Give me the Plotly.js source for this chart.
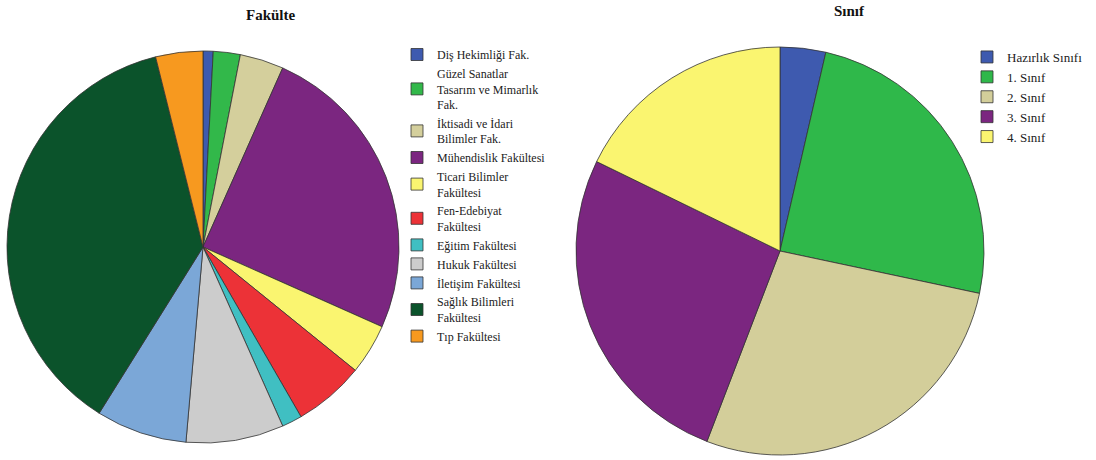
<!DOCTYPE html>
<html>
<head>
<meta charset="utf-8">
<script src="https://cdn.plot.ly/plotly-3.0.1.min.js"></script>
<style>html,body{margin:0;padding:0;background:#fff;}#chart{width:1096px;height:460px;}</style>
</head>
<body>
<div id="chart"></div>
<script>
// Left pie: Fakülte
const facultyLabels = [
  "Diş Hekimliği Fak.",
  "Güzel Sanatlar<br>Tasarım ve Mimarlık<br>Fak.",
  "İktisadi ve İdari<br>Bilimler Fak.",
  "Mühendislik Fakültesi",
  "Ticari Bilimler<br>Fakültesi",
  "Fen-Edebiyat<br>Fakültesi",
  "Eğitim Fakültesi",
  "Hukuk Fakültesi",
  "İletişim Fakültesi",
  "Sağlık Bilimleri<br>Fakültesi",
  "Tıp Fakültesi"
];
const facultyValues = [3, 8, 13, 90, 15, 21, 6, 29, 27, 134, 14];
const facultyColors = ["#3e5aaf", "#32b84a", "#d4cf9c", "#7b2680", "#faf570", "#ec3237",
                       "#40bfc2", "#cccccc", "#7ba7d7", "#0b532b", "#f7991f"];

// Right pie: Sınıf
const classLabels = ["Hazırlık Sınıfı", "1. Sınıf", "2. Sınıf", "3. Sınıf", "4. Sınıf"];
const classValues = [13, 89, 99, 95, 64];
const classColors = ["#3e5aaf", "#2fb84a", "#d3ce9a", "#7b2680", "#faf570"];

const W = 1096, H = 460;
const serif = "Liberation Serif";

const traces = [
  {
    type: "pie",
    labels: facultyLabels,
    values: facultyValues,
    marker: {colors: facultyColors, line: {color: "#333333", width: 0.8}},
    sort: false,
    direction: "clockwise",
    rotation: 0,
    textinfo: "none",
    hoverinfo: "label+value",
    domain: {x: [7 / W, 399 / W], y: [1 - 443 / H, 1 - 51 / H]},
    legend: "legend"
  },
  {
    type: "pie",
    labels: classLabels,
    values: classValues,
    marker: {colors: classColors, line: {color: "#333333", width: 0.8}},
    sort: false,
    direction: "clockwise",
    rotation: 0,
    textinfo: "none",
    hoverinfo: "label+value",
    domain: {x: [576 / W, 984 / W], y: [1 - 455 / H, 1 - 47 / H]},
    legend: "legend2"
  }
];

const layout = {
  width: W,
  height: H,
  margin: {l: 0, r: 0, t: 0, b: 0},
  paper_bgcolor: "#ffffff",
  font: {family: serif, color: "#222222"},
  showlegend: true,
  legend: {
    x: 397 / W, xanchor: "left",
    y: 1 - 40 / H, yanchor: "top",
    font: {family: serif, size: 12, color: "#222222"},
    bgcolor: "rgba(0,0,0,0)",
    traceorder: "normal"
  },
  legend2: {
    x: 967 / W, xanchor: "left",
    y: 1 - 42 / H, yanchor: "top",
    font: {family: serif, size: 13, color: "#222222"},
    bgcolor: "rgba(0,0,0,0)",
    traceorder: "normal"
  },
  annotations: [
    {text: "<b>Fakülte</b>", x: 271 / W, y: 1 - 15 / H, xref: "paper", yref: "paper",
     showarrow: false, xanchor: "center", yanchor: "middle",
     font: {family: serif, size: 15, color: "#111111"}},
    {text: "<b>Sınıf</b>", x: 849 / W, y: 1 - 11 / H, xref: "paper", yref: "paper",
     showarrow: false, xanchor: "center", yanchor: "middle",
     font: {family: serif, size: 15, color: "#111111"}}
  ]
};

Plotly.newPlot("chart", traces, layout, {displayModeBar: false, responsive: false});
</script>
</body>
</html>
